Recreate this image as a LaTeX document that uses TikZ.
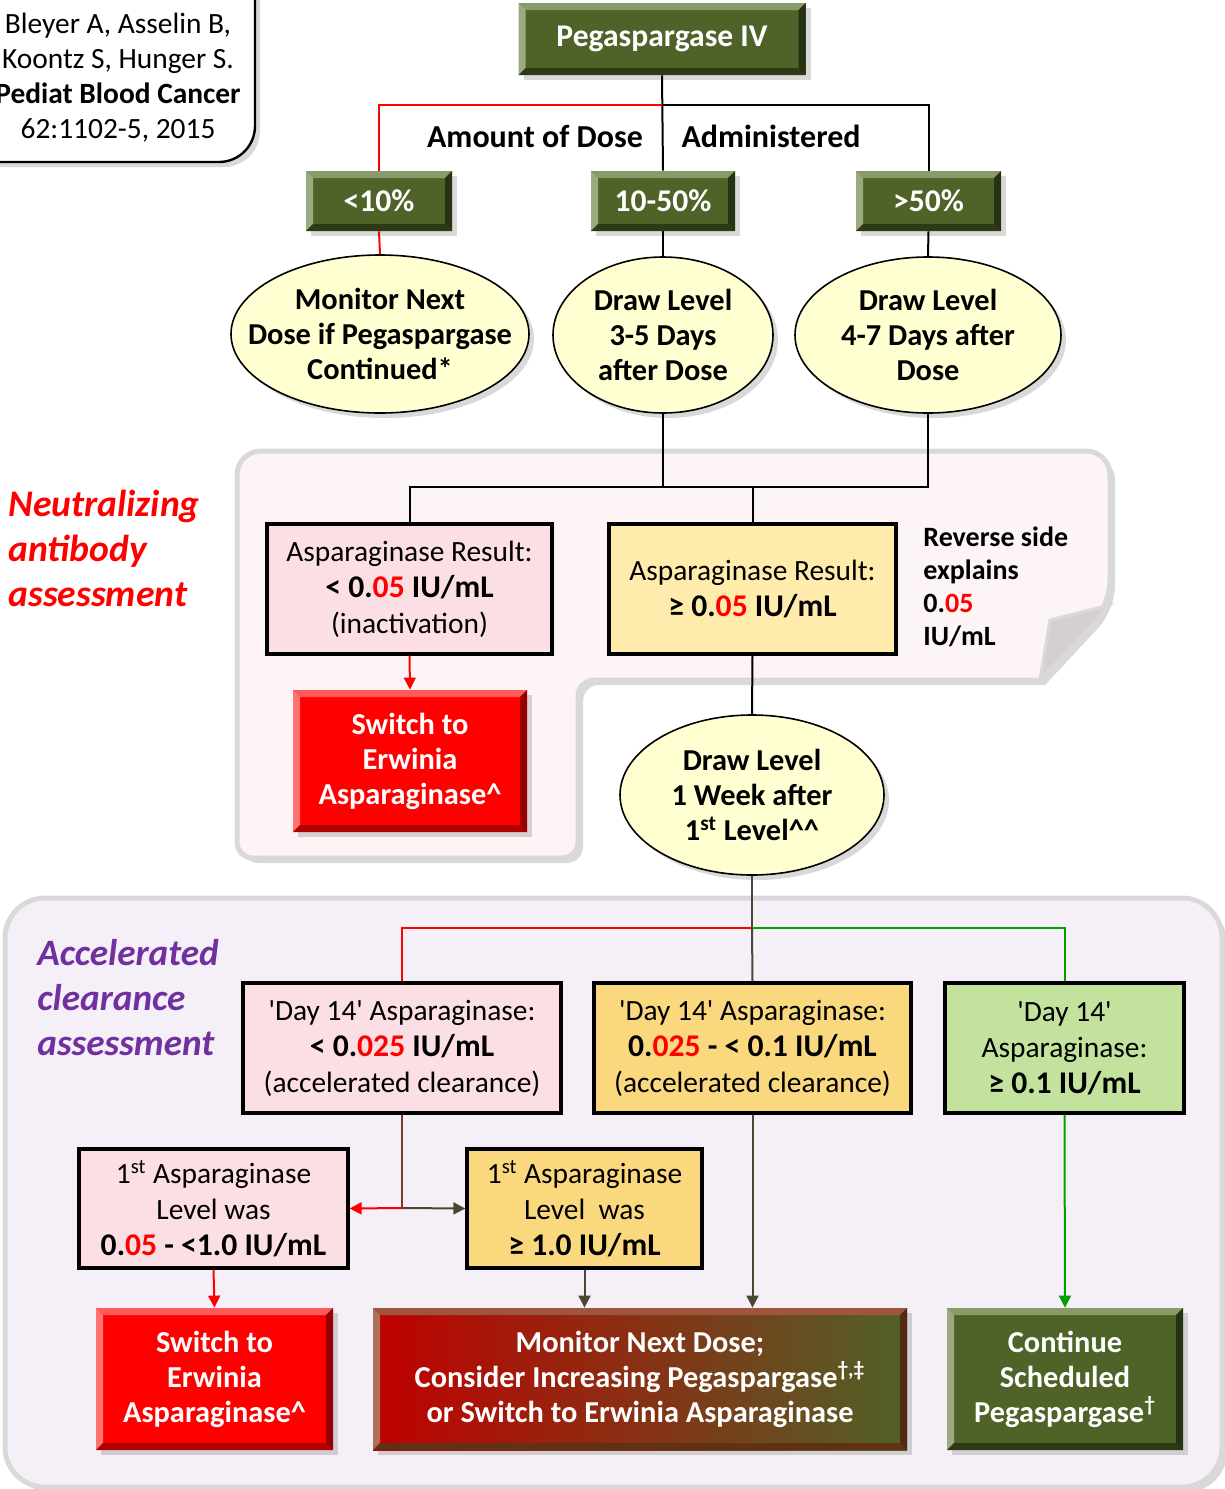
\documentclass[tikz,border=0pt]{standalone}
\usepackage{fontspec}
\setmainfont{Carlito}
\usepackage{tikz}
\usetikzlibrary{arrows.meta,positioning,shapes.geometric,shadows}
\definecolor{pegOlive}{HTML}{4F6228}
\definecolor{pegOliveL}{HTML}{8A9B6A}
\definecolor{pegOliveD}{HTML}{2E3A16}
\definecolor{swRed}{HTML}{FF0000}
\definecolor{swRedL}{HTML}{FF5A5A}
\definecolor{swRedD}{HTML}{B00000}
\definecolor{gradRed}{HTML}{C00000}
\definecolor{resPink}{HTML}{FBDFE4}
\definecolor{resPale}{HTML}{FFEBAB}
\definecolor{resGold}{HTML}{F9D87E}
\definecolor{resGreen}{HTML}{C3E29E}
\definecolor{ovalIn}{HTML}{FFFFD2}
\definecolor{ovalRim}{HTML}{A5A56A}
\definecolor{notePink}{HTML}{FDF4F5}
\definecolor{panelLav}{HTML}{F5F0F8}
\definecolor{panelEdge}{HTML}{D9D9D9}
\definecolor{foldGray}{HTML}{D5CFD1}
\definecolor{accPurple}{HTML}{7030A0}
\definecolor{lineGreen}{HTML}{00A000}
\definecolor{lineDark}{HTML}{4A4630}
\definecolor{lineBrown}{HTML}{7A3B2C}
\pgfdeclareradialshading{ovalglow}{\pgfpoint{0bp}{8bp}}{color(0bp)=(ovalIn); color(30bp)=(ovalIn); color(42bp)=(ovalIn!75!ovalRim); color(50bp)=(ovalRim)}
\newcommand{\redpart}[1]{\textcolor{swRed}{#1}}
\newcommand{\valfont}{\fontsize{15.8}{18}\selectfont\bfseries}

\begin{document}
\begin{tikzpicture}[
x=0.5pt, y=-0.5pt,
every node/.style={font=\fontsize{14.7}{18}\selectfont, inner sep=0pt},
bevel/.style 2 args={path picture={
  \coordinate (bvA) at (path picture bounding box.north west);
  \coordinate (bvB) at (path picture bounding box.south east);
  \fill[#1] (bvA) -- (bvA -| bvB) -- ([shift={(-3.5pt,-3.5pt)}]bvA -| bvB) -- ([shift={(3.5pt,-3.5pt)}]bvA) -- cycle;
  \fill[#1!85!white] (bvA) -- ([shift={(3.5pt,-3.5pt)}]bvA) -- ([shift={(3.5pt,3.5pt)}]bvA |- bvB) -- (bvA |- bvB) -- cycle;
  \fill[#2] (bvA |- bvB) -- (bvB) -- ([shift={(-3.5pt,3.5pt)}]bvB) -- ([shift={(3.5pt,3.5pt)}]bvA |- bvB) -- cycle;
  \fill[#2!85!black] (bvB) -- (bvA -| bvB) -- ([shift={(-3.5pt,-3.5pt)}]bvA -| bvB) -- ([shift={(-3.5pt,3.5pt)}]bvB) -- cycle;
}},
shad/.style={drop shadow={opacity=0.3, shadow xshift=2.5pt, shadow yshift=-2.5pt}},
greenbox/.style={rectangle, fill=pegOlive, text=white, align=center, font=\fontsize{15.8}{17.5}\selectfont\bfseries, bevel={pegOliveL}{pegOliveD}, shad},
redbox/.style={rectangle, fill=swRed, text=white, align=center, font=\fontsize{15.2}{17.5}\selectfont\bfseries, bevel={swRedL}{swRedD}, shad, minimum height=71pt},
oval/.style={ellipse, draw, thick, shading=ovalglow, align=center, inner xsep=-40pt, inner ysep=-20pt, font=\fontsize{15.2}{17.5}\selectfont\bfseries, shad},
resbox/.style={rectangle, draw, line width=1.6pt, align=center},
panel/.style={draw=panelEdge, line width=2.5pt, shad},
conn/.style={line width=1pt},
arr/.style={conn, -{Triangle[length=6pt,width=6pt]}}
]
\useasboundingbox (0,0) rectangle (1225,1489);

% Panels behind the chart
\draw[panel, fill=notePink] (237,600) [rounded corners=12pt] -- (237,451) -- (1110,451) -- (1110,605) [sharp corners] -- (1040,680) [rounded corners=8pt] -- (578,680) -- (578,858) -- (237,858) -- cycle;
\filldraw[fill=foldGray, draw=panelEdge, line width=1.5pt] (1110,605) -- (1050,620) -- (1040,680) -- cycle;
\draw[panel, fill=panelLav, rounded corners=20pt] (5,898) rectangle (1222,1487);

% Reference box
\draw[line width=1.2pt, fill=white, rounded corners=18pt, shad] (-40,-40) rectangle (255,162);
\node[align=center, font=\fontsize{14.7}{17.5}\selectfont] (cite) at (118,78) {Bleyer A, Asselin B,\\Koontz S, Hunger S.\\\textbf{Pediat Blood Cancer}\\62:1102-5, 2015};

% Dose given
\node[greenbox, minimum width=143.5pt, minimum height=36pt] (peg) at (662,39) {Pegaspargase IV};
\node[font=\fontsize{16}{17.5}\selectfont\bfseries] (amt) at (535,136) {Amount of Dose};
\node[font=\fontsize{16}{17.5}\selectfont\bfseries] (adm) at (771,136) {Administered};
\node[greenbox, minimum width=73pt, minimum height=30pt] (lo) at (379,201) {<10\%};
\node[greenbox, minimum width=72pt, minimum height=30pt] (mid) at (663,201) {10-50\%};
\node[greenbox, minimum width=72.5pt, minimum height=30pt] (hi) at (928.5,201) {>50\%};

\node[oval, minimum width=149pt, minimum height=79pt] (ov1) at (380,334) {Monitor Next\\Dose if Pegaspargase\\Continued*};
\node[oval, minimum width=110pt, minimum height=78pt] (ov2) at (663,335) {Draw Level\\3-5 Days\\after Dose};
\node[oval, minimum width=133pt, minimum height=78pt] (ov3) at (928,335) {Draw Level\\4-7 Days after\\Dose};

% Neutralizing antibody part
\node[anchor=west, align=left, text=swRed, font=\fontsize{18.8}{22.5}\selectfont\bfseries\itshape] (neut) at (8,548) {Neutralizing\\antibody\\assessment};
\node[resbox, fill=resPink, minimum width=142.5pt, minimum height=65pt] (res1) at (409.5,589) {Asparaginase Result:\\{\valfont < 0.\redpart{05} IU/mL}\\(inactivation)};
\node[resbox, fill=resPale, minimum width=143.5pt, minimum height=65pt] (res2) at (752.5,589) {Asparaginase Result:\\{\valfont ≥ 0.\redpart{05} IU/mL}};
\node[anchor=west, align=left, font=\fontsize{14}{16.5}\selectfont\bfseries] (rev) at (923,587) {Reverse side\\explains\\0.\redpart{05}\\IU/mL};
\node[redbox, minimum width=117pt] (sw1) at (410,761) {Switch to\\Erwinia\\Asparaginase\^{}};
\node[oval, minimum width=132pt, minimum height=80pt] (ov4) at (752,795) {Draw Level\\1 Week after\\1\textsuperscript{st} Level\^{}\^{}};

% Accelerated clearance part
\node[anchor=west, align=left, text=accPurple, font=\fontsize{18.6}{22.5}\selectfont\bfseries\itshape] (acc) at (37,998) {Accelerated\\clearance\\assessment};
\node[resbox, fill=resPink, minimum width=159pt, minimum height=65pt] (d1) at (402,1048) {\textquotesingle Day 14\textquotesingle\ Asparaginase:\\{\valfont < 0.\redpart{025} IU/mL}\\(accelerated clearance)};
\node[resbox, fill=resGold, minimum width=158.5pt, minimum height=65pt] (d2) at (752.5,1048) {\textquotesingle Day 14\textquotesingle\ Asparaginase:\\{\valfont 0.\redpart{025} - < 0.1 IU/mL}\\(accelerated clearance)};
\node[resbox, fill=resGreen, minimum width=119.5pt, minimum height=65pt] (d3) at (1064.5,1048) {\textquotesingle Day 14\textquotesingle\\Asparaginase:\\{\valfont ≥ 0.1 IU/mL}};
\node[resbox, fill=resPink, minimum width=134.5pt, minimum height=59.5pt] (l1) at (213.5,1208.5) {1\textsuperscript{st} Asparaginase\\Level was\\{\valfont 0.\redpart{05} - <1.0 IU/mL}};
\node[resbox, fill=resGold, minimum width=117.5pt, minimum height=59.5pt] (l2) at (584.5,1208.5) {1\textsuperscript{st} Asparaginase\\Level\ \ was\\{\valfont ≥ 1.0 IU/mL}};
\node[redbox, minimum width=118.5pt] (sw2) at (214.5,1379) {Switch to\\Erwinia\\Asparaginase\^{}};
\node[redbox, minimum width=267pt, left color=gradRed, right color=pegOlive, bevel={white!30!gradRed!60!pegOlive}{black!40!gradRed!50!pegOlive}] (mon) at (640,1379) {Monitor Next Dose;\\Consider Increasing Pegaspargase\textsuperscript{†,‡}\\or Switch to Erwinia Asparaginase};
\node[greenbox, minimum width=118pt, minimum height=71pt, font=\fontsize{15.2}{17.5}\selectfont\bfseries] (cont) at (1065,1379) {Continue\\Scheduled\\Pegaspargase\textsuperscript{†}};

% Connectors, top tree
\coordinate (split1) at (662,105);
\coordinate (bus1) at (663,487);
\coordinate (bus2) at (752,928);
\coordinate (bus3) at (402,1208);
\draw[conn] (peg.south) -- (mid.north);
\draw[conn, swRed] (split1) -| (lo.north);
\draw[conn] (split1) -| (hi.north);
\draw[conn, swRed] (lo.south) -- (ov1.north);
\draw[conn] (mid.south) -- (ov2.north);
\draw[conn] (hi.south) -- (ov3.north);
\draw[conn] (ov2.south) -- (bus1);
\draw[conn] (ov3.south) |- (bus1);
\draw[conn] (bus1) -| (res1.north);
\draw[conn] (bus1) -| (res2.north);
\draw[arr, swRed] (res1.south) -- (sw1.north);
\draw[conn] (res2.south) -- (ov4.north);

% Connectors, lower tree
\draw[conn, lineDark] (ov4.south) -- (bus2);
\draw[conn, swRed] (bus2) -| (d1.north);
\draw[conn, lineGreen] (bus2) -| (d3.north);
\draw[conn, lineDark] (bus2) -- (d2.north);
\draw[conn, lineBrown] (d1.south) -- (bus3);
\draw[arr, swRed] (bus3) -- (l1.east);
\draw[arr, lineDark] (bus3) -- (l2.west);
\draw[arr, swRed] (l1.south) -- (sw2.north);
\draw[arr, lineDark] (l2.south) -- (l2.south |- mon.north);
\draw[arr, lineDark] (d2.south) -- (d2.south |- mon.north);
\draw[arr, lineGreen] (d3.south) -- (cont.north);
\end{tikzpicture}
\end{document}
